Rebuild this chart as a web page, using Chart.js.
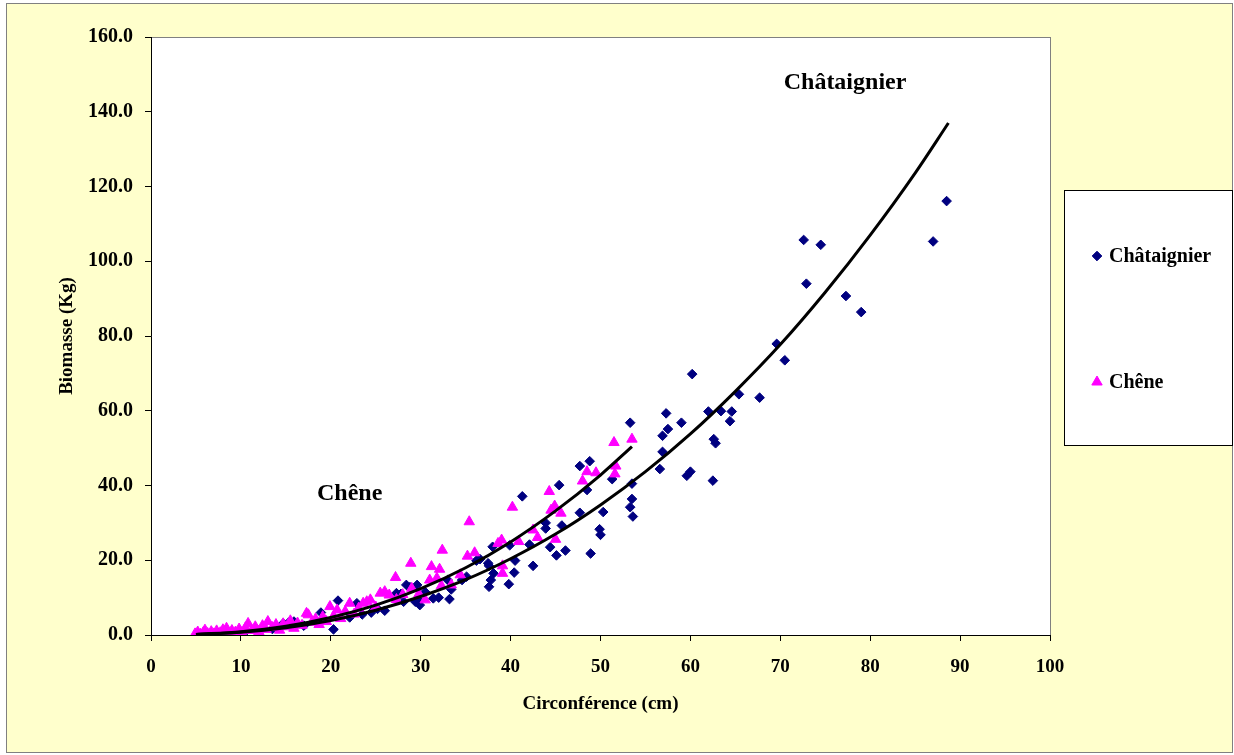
<!DOCTYPE html>
<html>
<head>
<meta charset="utf-8">
<script src="https://cdn.jsdelivr.net/npm/chart.js@4"></script>
<style>
html, body { margin: 0; padding: 0; background: #fff; }
</style>
</head>
<body>
<canvas id="chart" width="1234" height="755"></canvas>
<script>
// Châtaignier: circonférence (cm) / biomasse (kg)
const chataignierC = [5.5, 6.0, 7.5, 9.0, 10.5, 12.0, 13.5, 14.7, 15.3, 15.9, 17.0, 18.9, 20.3, 20.8, 22.1, 22.9, 23.5, 24.5, 25.2, 26.0,
    27.3, 27.8, 28.1, 28.4, 28.8, 29.4, 29.6, 29.7, 29.9, 30.5, 31.4, 32.0, 33.0, 33.2, 33.4, 34.6, 35.1, 36.2, 36.6, 37.5,
    37.6, 37.6, 37.8, 38.0, 38.1, 39.8, 39.9, 40.4, 40.5, 41.3, 42.1, 42.5, 43.9, 43.9, 44.4, 45.1, 45.4, 45.7, 46.1, 47.7,
    47.7, 48.5, 48.8, 48.9, 49.9, 50.0, 50.3, 51.3, 53.3, 53.3, 53.5, 53.5, 53.6, 56.6, 56.9, 56.9, 57.3, 57.5, 59.0, 59.6,
    60.0, 60.2, 62.0, 62.5, 62.6, 62.8, 63.4, 64.4, 64.6, 65.4, 67.7, 69.6, 70.5, 72.6, 72.9, 74.5, 77.3, 79.0, 87.0, 88.5];
const chataignierB = [0.2, 0.3, 0.5, 0.6, 0.9, 1.2, 1.6, 3.1, 3.3, 3.6, 2.5, 6.0, 1.5, 9.2, 4.7, 8.5, 5.5, 6.0, 7.0, 6.5,
    11.2, 11.0, 8.9, 13.4, 12.8, 8.9, 13.4, 9.4, 8.0, 11.5, 9.8, 10.0, 14.7, 9.6, 12.2, 14.7, 15.6, 19.9, 20.3, 19.2,
    12.9, 18.5, 14.7, 23.6, 16.5, 13.6, 24.0, 16.7, 19.9, 37.1, 24.2, 18.5, 30.0, 28.5, 23.5, 21.3, 40.1, 29.3, 22.6, 45.2,
    32.7, 38.8, 46.5, 21.8, 28.3, 26.8, 32.9, 41.7, 56.8, 34.2, 40.5, 36.4, 31.7, 44.4, 49.0, 53.3, 59.3, 55.1, 56.8, 42.6,
    43.7, 69.8, 59.8, 41.3, 52.4, 51.3, 59.9, 57.2, 59.8, 64.4, 63.5, 77.9, 73.5, 105.7, 94.0, 104.4, 90.7, 86.4, 105.3, 116.1];

// Chêne
const cheneC = [4.9, 5.2, 5.5, 5.8, 6.0, 6.3, 6.7, 7.0, 7.3, 7.7, 8.0, 8.4, 8.7, 9.0, 9.4, 9.8, 10.1, 10.5, 10.8, 11.2,
    11.6, 12.0, 12.4, 12.8, 13.0, 13.5, 13.9, 14.3, 14.7, 15.1, 15.5, 15.9, 16.3, 16.8, 17.3, 17.5, 17.9, 18.3, 18.7, 19.1,
    19.5, 19.9, 20.3, 20.7, 21.1, 21.6, 22.1, 22.6, 23.1, 23.6, 24.0, 24.4, 25.0, 25.5, 26.0, 26.5, 27.2, 27.3, 28.0, 28.9,
    29.0, 29.8, 30.5, 31.0, 31.2, 31.8, 32.1, 32.3, 32.4, 33.4, 34.4, 35.2, 35.4, 36.0, 38.6, 39.0, 39.1, 39.1, 40.2, 40.9,
    42.5, 43.0, 44.3, 44.5, 44.9, 45.0, 45.6, 48.0, 48.5, 49.5, 51.5, 51.6, 51.7, 53.5];
const cheneB = [0.3, 0.8, 0.2, 0.6, 1.3, 0.4, 0.9, 0.3, 1.1, 0.6, 1.4, 1.8, 0.5, 1.2, 0.8, 1.6, 0.6, 1.9, 3.1, 1.2,
    2.2, 0.9, 2.5, 1.5, 3.6, 2.0, 2.8, 1.3, 3.0, 2.2, 3.8, 1.8, 3.2, 2.6, 5.8, 5.4, 3.4, 4.3, 2.8, 4.9,
    3.6, 7.6, 5.0, 6.7, 4.4, 6.3, 8.5, 5.6, 7.2, 8.5, 8.9, 9.4, 7.5, 11.2, 11.6, 10.7, 15.4, 9.5, 10.8, 19.2,
    12.5, 11.0, 9.4, 14.7, 18.3, 15.2, 17.6, 13.2, 22.7, 13.4, 16.1, 21.1, 30.3, 22.0, 24.5, 25.4, 18.5, 16.5, 34.2, 25.0,
    28.1, 26.1, 38.4, 33.4, 34.5, 25.6, 32.6, 41.2, 43.7, 43.4, 51.5, 43.1, 45.2, 52.4];

// courbes de tendance
const trendChatC = [5, 10, 15, 20, 25, 30, 35, 40, 45, 50, 55, 60, 65, 70, 75, 80, 85, 88.7];
const trendChatB = [0.14, 0.74, 1.96, 3.9, 6.64, 10.3, 14.8, 20.4, 27.0, 34.8, 43.7, 53.8, 65.2, 77.7, 91.7, 107, 123.6, 137];
const trendCheneC = [5, 10, 15, 20, 25, 30, 35, 40, 45, 50, 53.5];
const trendCheneB = [0.16, 0.87, 2.32, 4.66, 8.0, 12.4, 18.0, 24.9, 33.2, 42.8, 50.4];

// étiquettes dans le graphique
const notes = [
    { text: "Châtaignier", c: 77.2, b: 147.7 },
    { text: "Chêne", c: 22.1, b: 37.7 }
];

const FONT = "'Liberation Serif', 'Times New Roman', serif";

const toPoints = (xs, ys) => xs.map((x, i) => ({ x: x, y: ys[i] }));

const backgroundPlugin = {
    id: 'bg',
    beforeDraw(chart) {
        const { ctx, chartArea: a } = chart;
        ctx.save();
        ctx.fillStyle = '#ffffff';
        ctx.fillRect(0, 0, chart.width, chart.height);
        ctx.fillStyle = '#ffffcc';
        ctx.fillRect(6, 3, 1226, 749);
        ctx.strokeStyle = '#808080';
        ctx.lineWidth = 1;
        ctx.strokeRect(6.5, 3.5, 1226, 749);
        ctx.fillStyle = '#ffffff';
        ctx.fillRect(a.left, a.top, a.right - a.left, a.bottom - a.top);
        ctx.strokeStyle = '#808080';
        ctx.strokeRect(a.left + 0.5, a.top + 0.5, a.right - a.left, a.bottom - a.top);
        ctx.restore();
    }
};

const extrasPlugin = {
    id: 'extras',
    afterDraw(chart) {
        const { ctx, chartArea: a, scales } = chart;
        ctx.save();
        // textes
        ctx.fillStyle = '#000';
        ctx.font = "bold 24px " + FONT;
        ctx.textAlign = 'center';
        ctx.textBaseline = 'middle';
        notes.forEach(n => {
            ctx.fillText(n.text, scales.x.getPixelForValue(n.c), scales.y.getPixelForValue(n.b));
        });

        // légende
        const bx = a.right + 14, by = 190, bw = 168, bh = 255;
        ctx.fillStyle = '#ffffff';
        ctx.fillRect(bx, by, bw, bh);
        ctx.strokeStyle = '#000';
        ctx.lineWidth = 1;
        ctx.strokeRect(bx + 0.5, by + 0.5, bw, bh);

        const items = [
            { ds: chart.data.datasets[0], y: by + 66 },
            { ds: chart.data.datasets[1], y: by + 192 }
        ];
        ctx.font = "bold 20px " + FONT;
        ctx.textAlign = 'left';
        items.forEach(it => {
            ctx.fillStyle = it.ds.backgroundColor;
            ctx.strokeStyle = it.ds.borderColor;
            ctx.lineWidth = 1;
            Chart.helpers.drawPoint(ctx, {
                pointStyle: it.ds.pointStyle,
                radius: it.ds.pointRadius,
                rotation: 0,
                borderWidth: 1
            }, bx + 33, it.y);
            ctx.fillStyle = '#000';
            ctx.fillText(it.ds.label, bx + 45, it.y + 1);
        });
        ctx.restore();
    }
};

new Chart(document.getElementById('chart'), {
    type: 'scatter',
    data: {
        datasets: [
            {
                label: 'Châtaignier',
                data: toPoints(chataignierC, chataignierB),
                pointStyle: 'rectRot',
                pointRadius: 4.8,
                backgroundColor: '#000080',
                borderColor: '#000080',
                borderWidth: 1,
                order: 3
            },
            {
                label: 'Chêne',
                data: toPoints(cheneC, cheneB),
                pointStyle: 'triangle',
                pointRadius: 6,
                backgroundColor: '#ff00ff',
                borderColor: '#ff00ff',
                borderWidth: 1,
                order: 2
            },
            {
                label: 'Tendance Châtaignier',
                data: toPoints(trendChatC, trendChatB),
                showLine: true,
                pointRadius: 0,
                borderColor: '#000',
                borderWidth: 3,
                cubicInterpolationMode: 'monotone',
                order: 1
            },
            {
                label: 'Tendance Chêne',
                data: toPoints(trendCheneC, trendCheneB),
                showLine: true,
                pointRadius: 0,
                borderColor: '#000',
                borderWidth: 3,
                cubicInterpolationMode: 'monotone',
                order: 1
            }
        ]
    },
    options: {
        responsive: false,
        animation: false,
        events: [],
        layout: { padding: { left: 56, top: 37, right: 184, bottom: 40 } },
        plugins: {
            legend: { display: false },
            tooltip: { enabled: false }
        },
        scales: {
            x: {
                type: 'linear',
                min: 0,
                max: 100,
                afterFit: (s) => { s.height = 80; },
                ticks: {
                    stepSize: 10,
                    color: '#000',
                    padding: 15,
                    font: { family: FONT, size: 19, weight: 'bold' }
                },
                grid: { drawOnChartArea: false, tickLength: 6, color: '#000' },
                border: { color: '#000' },
                title: {
                    display: true,
                    text: 'Circonférence (cm)',
                    color: '#000',
                    padding: 0,
                    font: { family: FONT, size: 19, weight: 'bold' }
                }
            },
            y: {
                min: 0,
                max: 160,
                afterFit: (s) => { s.width = 95; },
                ticks: {
                    stepSize: 20,
                    color: '#000',
                    padding: 12,
                    callback: (v) => v.toFixed(1),
                    font: { family: FONT, size: 20, weight: 'bold' }
                },
                grid: { drawOnChartArea: false, tickLength: 6, color: '#000' },
                border: { color: '#000' },
                title: {
                    display: true,
                    text: 'Biomasse (Kg)',
                    color: '#000',
                    padding: 0,
                    font: { family: FONT, size: 19, weight: 'bold' }
                }
            }
        }
    },
    plugins: [backgroundPlugin, extrasPlugin]
});
</script>
</body>
</html>
